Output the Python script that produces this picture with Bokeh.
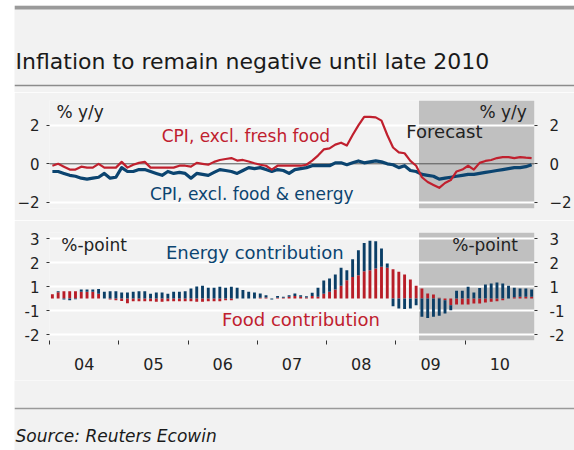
import numpy as np
from bokeh.plotting import figure
from bokeh.models import (Range1d, FixedTicker, LinearAxis, BoxAnnotation, Span, Label,
                          ColumnDataSource)
from bokeh.layouts import column
from bokeh.embed import file_html
from bokeh.resources import INLINE

# ---------------- data (monthly, Jan 2004 - Dec 2010) ----------------
start_year = 2004
core_cpi = [  # CPI, excl. fresh food, % y/y
    -0.1, 0.0, -0.15, -0.3, -0.3, -0.15, -0.2, -0.2, 0.0, -0.2, -0.2, -0.2,
    0.1, -0.2, -0.05, 0.05, 0.1, -0.2, -0.2, -0.2, -0.2, -0.2, -0.1, -0.1,
    -0.15, 0.05, 0.0, -0.05, 0.1, 0.2, 0.25, 0.3, 0.17, 0.2, 0.12, 0.03,
    -0.05, -0.1, -0.3, -0.1, -0.1, -0.1, -0.1, -0.1, -0.05, 0.17, 0.43, 0.75,
    0.8, 1.0, 1.1, 0.95, 1.5, 2.0, 2.45, 2.45, 2.42, 2.25, 1.5, 0.85,
    0.6, 0.55, 0.15, -0.1, -0.7, -0.95, -1.1, -1.25, -1.0, -0.85, -0.4, -0.3,
    -0.1, -0.3, 0.05, 0.15, 0.2, 0.3, 0.35, 0.35, 0.3, 0.35, 0.32, 0.3]
core_core_cpi = [  # CPI, excl. food & energy, % y/y
    -0.4, -0.4, -0.5, -0.6, -0.65, -0.75, -0.8, -0.75, -0.7, -0.5, -0.75, -0.7,
    -0.2, -0.4, -0.4, -0.3, -0.3, -0.4, -0.5, -0.6, -0.4, -0.5, -0.45, -0.5,
    -0.75, -0.5, -0.55, -0.6, -0.45, -0.3, -0.35, -0.4, -0.5, -0.35, -0.2, -0.25,
    -0.2, -0.3, -0.4, -0.3, -0.35, -0.5, -0.3, -0.25, -0.2, -0.1, -0.1, -0.1,
    -0.1, 0.05, 0.05, -0.05, 0.05, 0.15, 0.05, 0.1, 0.15, 0.1, 0.0, -0.05,
    -0.2, -0.1, -0.35, -0.4, -0.55, -0.6, -0.65, -0.8, -0.75, -0.7, -0.65, -0.6,
    -0.55, -0.55, -0.5, -0.45, -0.4, -0.35, -0.3, -0.25, -0.2, -0.2, -0.15, -0.05]
food_contrib = [  # %-point
    0.18, 0.26, 0.3, 0.3, 0.3, 0.28, 0.28, 0.28, 0.2, 0.0, -0.04, -0.07,
    -0.1, -0.2, -0.11, -0.11, -0.11, -0.11, -0.14, -0.14, -0.11, -0.11, -0.11, -0.11,
    -0.11, -0.14, -0.14, -0.11, -0.11, -0.11, -0.07, -0.07, 0.0, 0.0, 0.0, 0.0,
    0.03, 0.04, 0.0, 0.03, 0.03, 0.07, 0.1, 0.07, 0.04, 0.1, 0.07, 0.2,
    0.28, 0.38, 0.53, 0.76, 0.9, 0.97, 1.14, 1.18, 1.25, 1.32, 1.28, 1.22,
    1.11, 1.0, 0.79, 0.53, 0.42, 0.21, 0.17, 0.03, -0.07, -0.28, -0.25, -0.25,
    -0.25, -0.21, -0.21, -0.17, -0.14, -0.11, -0.07, 0.0, 0.05, 0.07, 0.07, 0.07]
energy_contrib = [  # %-point
    0.0, 0.04, -0.04, -0.07, -0.03, 0.1, 0.1, 0.1, 0.2, 0.28, 0.3, 0.3,
    0.25, 0.25, 0.28, 0.3, 0.3, 0.2, 0.25, 0.25, 0.2, 0.28, 0.28, 0.3,
    0.42, 0.5, 0.53, 0.45, 0.45, 0.49, 0.45, 0.49, 0.45, 0.35, 0.28, 0.25,
    0.18, 0.1, -0.04, 0.07, 0.04, 0.07, 0.11, 0.07, 0.05, 0.14, 0.38, 0.55,
    0.55, 0.62, 0.75, 0.42, 0.74, 1.04, 1.17, 1.23, 1.14, 0.76, 0.18, -0.32,
    -0.42, -0.44, -0.42, -0.28, -0.76, -0.81, -0.76, -0.72, -0.56, -0.21, 0.32, 0.32,
    0.49, 0.25, 0.44, 0.58, 0.63, 0.67, 0.63, 0.53, 0.4, 0.35, 0.35, 0.3]
forecast_start = 2009 + 4 / 12
year_ticks = [2004, 2005, 2006, 2007, 2008, 2009, 2010]
year_labels = ["04", "05", "06", "07", "08", "09", "10"]
top_ticks = [-2, 0, 2]
bottom_tick_values = [-1.5, -0.5, 0.5, 1.5, 2.5]
bottom_tick_labels = ["-2", "-1", "1", "2", "3"]

# ---------------- styling ----------------
BG = "#f2f2f2"
RED = "#c0202e"
BLUE = "#0b4470"
BAR_RED = "#b81d27"
BAR_BLUE = "#0b3e66"
GREY = "#c0c0c0"
FONT = "DejaVu Sans"
TXT = "#222222"
W = 560

x = start_year + (np.arange(len(core_cpi)) + 0.5) / 12.0
food = np.array(food_contrib)
energy = np.array(energy_contrib)
base = np.where(energy >= 0, np.maximum(food, 0), np.minimum(food, 0))
src = ColumnDataSource(dict(x=x, cpi=core_cpi, core=core_core_cpi, food=food,
                            e_bot=base, e_top=base + energy))


def plain(fig):
    fig.background_fill_color = BG
    fig.border_fill_color = BG
    fig.outline_line_color = None
    return fig


def style_axis(ax, font_size="15px"):
    ax.axis_line_color = None
    ax.major_tick_in = 0
    ax.major_tick_out = 3
    ax.major_tick_line_color = "#333333"
    ax.minor_tick_line_color = None
    ax.major_label_text_font = FONT
    ax.major_label_text_font_size = font_size
    ax.major_label_text_color = TXT


# ---------------- header ----------------
HH = 87
hdr = plain(figure(width=W, height=HH, x_range=Range1d(0, W), y_range=Range1d(HH, 0),
                   output_backend="svg", toolbar_location=None, min_border=0, title=None,
                   x_axis_location=None, y_axis_location=None))
hdr.frame_align = False
hdr.grid.visible = False
hdr.add_layout(BoxAnnotation(top=0, bottom=4, fill_color="#9a9a9a", fill_alpha=1, line_color=None))
hdr.add_layout(Label(x=1, y=56, text="Inflation to remain negative until late 2010",
                     text_font=FONT, text_font_size="22px", text_color="#1a1a1a",
                     text_baseline="alphabetic"))
hdr.add_layout(Span(location=80, dimension="width", line_color="#8c8c8c", line_width=1.5))

# ---------------- top panel ----------------
xr = Range1d(2004, 2011)
top = plain(figure(width=W, height=128, x_range=xr, y_range=Range1d(-2.33, 3.30),
                   output_backend="svg", toolbar_location=None, x_axis_location=None,
                   min_border_left=29, min_border_right=38, min_border_top=8, min_border_bottom=12))
top.yaxis[0].ticker = FixedTicker(ticks=top_ticks)
top.add_layout(LinearAxis(ticker=FixedTicker(ticks=top_ticks)), "right")
for ax in top.yaxis:
    style_axis(ax)
top.yaxis[0].major_label_standoff = 7
top.yaxis[1].major_label_standoff = 12
top.xgrid.visible = False
top.ygrid.ticker = FixedTicker(ticks=[t for t in top_ticks if t != 0])
top.ygrid.grid_line_color = "white"
top.ygrid.grid_line_width = 2
top.add_layout(BoxAnnotation(left=forecast_start, fill_color=GREY, fill_alpha=1,
                             line_color=None, level="image"))
top.add_layout(Span(location=0, dimension="width", line_color="#555555", line_width=1,
                    level="underlay"))
top.line("x", "core", source=src, line_color=BLUE, line_width=3.2, line_join="round")
top.line("x", "cpi", source=src, line_color=RED, line_width=2.2, line_join="round")


def lab(fig, xx, yy, text, color=TXT, align="left", size="17px"):
    fig.add_layout(Label(x=xx, y=yy, text=text, text_font=FONT, text_font_size=size,
                         text_color=color, text_align=align, text_baseline="middle"))


lab(top, 2004.10, 2.72, "% y/y")
lab(top, 2010.89, 2.72, "% y/y", align="right")
lab(top, 2005.62, 1.47, "CPI, excl. fresh food", color=RED)
lab(top, 2005.45, -1.60, "CPI, excl. food & energy", color=BLUE)
lab(top, 2009.15, 1.68, "Forecast", size="18px")

# ---------------- bottom panel ----------------
bot = plain(figure(width=W, height=160, x_range=xr, y_range=Range1d(-1.75, 2.75),
                   output_backend="svg", toolbar_location=None,
                   min_border_left=29, min_border_right=38, min_border_top=12, min_border_bottom=40))
bot.yaxis[0].ticker = FixedTicker(ticks=bottom_tick_values)
bot.add_layout(LinearAxis(ticker=FixedTicker(ticks=bottom_tick_values)), "right")
overrides = {v: l for v, l in zip(bottom_tick_values, bottom_tick_labels)}
for ax in bot.yaxis:
    style_axis(ax)
    ax.major_label_overrides = overrides
bot.yaxis[0].major_label_standoff = 7
bot.yaxis[1].major_label_standoff = 12
bot.xgrid.visible = False
bot.ygrid.ticker = FixedTicker(ticks=bottom_tick_values)
bot.ygrid.grid_line_color = "white"
bot.ygrid.grid_line_width = 2

xa = bot.xaxis[0]
xa.ticker = FixedTicker(ticks=[y + 0.5 for y in year_ticks], minor_ticks=year_ticks)
xa.major_label_overrides = {y + 0.5: l for y, l in zip(year_ticks, year_labels)}
xa.axis_line_color = None
xa.major_tick_in = 0
xa.major_tick_out = 0
xa.minor_tick_in = 0
xa.minor_tick_out = 4
xa.minor_tick_line_color = "#333333"
xa.major_label_standoff = 13
xa.major_label_text_font = FONT
xa.major_label_text_font_size = "16px"
xa.major_label_text_color = TXT

bot.add_layout(BoxAnnotation(left=forecast_start, fill_color=GREY, fill_alpha=1,
                             line_color=None, level="image"))
bw = 0.5 / 12
bot.vbar(x="x", width=bw, bottom=0, top="food", source=src, fill_color=BAR_RED, line_color=None)
bot.vbar(x="x", width=bw, bottom="e_bot", top="e_top", source=src, fill_color=BAR_BLUE, line_color=None)

lab(bot, 2004.17, 2.21, "%-point")
lab(bot, 2010.76, 2.25, "%-point", align="right")
lab(bot, 2005.68, 1.92, "Energy contribution", color=BLUE, size="18px")
lab(bot, 2006.49, -0.875, "Food contribution", color=RED, size="18px")

# ---------------- footer ----------------
FH = 70
ftr = plain(figure(width=W, height=FH, x_range=Range1d(0, W), y_range=Range1d(FH, 0),
                   output_backend="svg", toolbar_location=None, min_border=0, title=None,
                   x_axis_location=None, y_axis_location=None))
ftr.frame_align = False
ftr.grid.visible = False
ftr.add_layout(Span(location=28, dimension="width", line_color="#9a9a9a", line_width=1.5))
ftr.add_layout(Label(x=1, y=55, text="Source: Reuters Ecowin", text_font=FONT,
                     text_font_size="17px", text_font_style="italic", text_color="#1a1a1a",
                     text_baseline="alphabetic"))

p = column(hdr, top, bot, ftr, margin=(5, 0, 0, 14))
open("out.html", "w").write(file_html(p, INLINE))
